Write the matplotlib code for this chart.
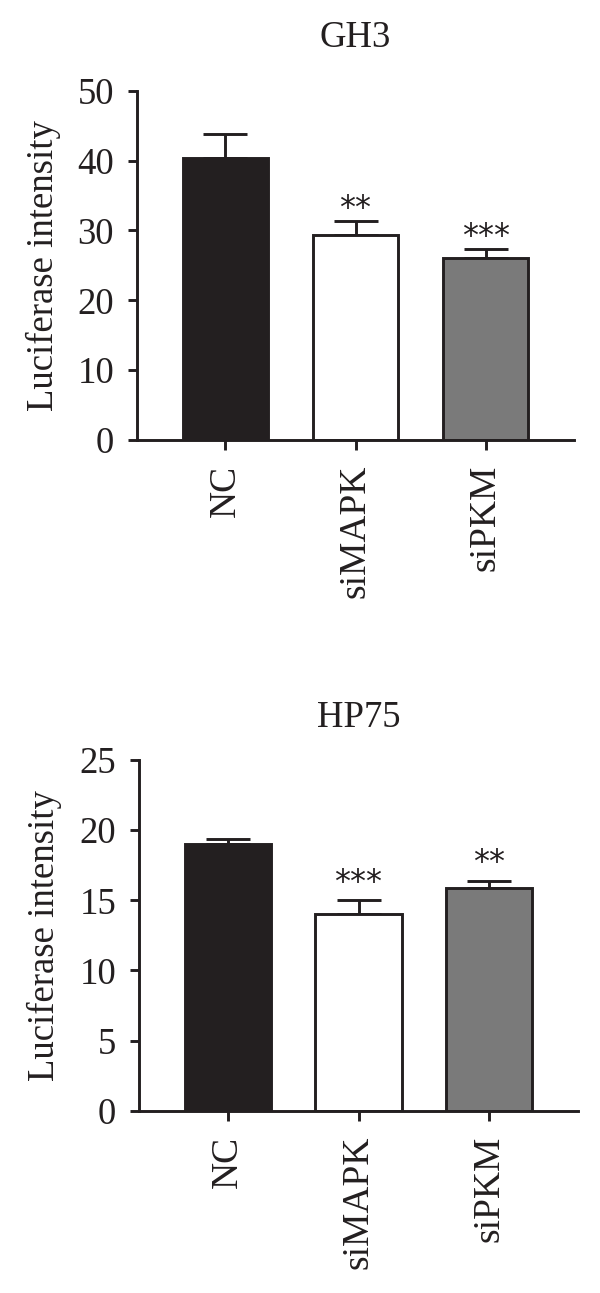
import matplotlib
matplotlib.use('Agg')
import matplotlib.pyplot as plt
import numpy as np

plt.rcParams['font.family'] = ['Liberation Serif', 'DejaVu Serif']

# Data
groups = ['NC', 'siMAPK', 'siPKM']
gh3_means = [40.3, 29.3, 26.1]
gh3_errs = [3.5, 2.1, 1.2]
gh3_stars = ['', '**', '***']
hp75_means = [19.0, 14.0, 15.9]
hp75_errs = [0.4, 1.0, 0.5]
hp75_stars = ['', '***', '**']

bar_colors = ['#231f20', '#ffffff', '#7a7a7a']
ink = '#231f20'
lw = 2.1

fig = plt.figure(figsize=(6, 12.93), dpi=100)

# axes rectangles measured in pixels on the 600x1293 canvas
W, H = 600, 1293
def rect(left, right, top, bottom):
    return [left / W, 1 - bottom / H, (right - left) / W, (bottom - top) / H]

panels = [
    dict(title='GH3', means=gh3_means, errs=gh3_errs, stars=gh3_stars,
         ymax=50, step=10, pos=rect(137, 574, 90.7, 440), title_pad=31.5, star_off=9),
    dict(title='HP75', means=hp75_means, errs=hp75_errs, stars=hp75_stars,
         ymax=25, step=5, pos=rect(139, 578, 760, 1110.7), title_pad=23.5, star_off=13),
]

for p in panels:
    ax = fig.add_axes(p['pos'])
    x = np.arange(len(groups))
    ax.bar(x, p['means'], 0.66, color=bar_colors, edgecolor=ink, linewidth=lw, zorder=2)
    ax.errorbar(x, p['means'], yerr=[np.zeros(len(x)), p['errs']], fmt='none',
                ecolor=ink, elinewidth=lw, capsize=15.5, capthick=lw, zorder=1)

    for xi, m, e, s in zip(x, p['means'], p['errs'], p['stars']):
        if s:
            ax.annotate(s, (xi, m + e), xytext=(0, p['star_off']), textcoords='offset points',
                        ha='center', va='center', fontsize=23, color=ink,
                        family=['DejaVu Sans'])

    ax.set_xlim(-0.68, 2.68)
    ax.set_ylim(0, p['ymax'])
    ax.set_yticks(np.arange(0, p['ymax'] + 1, p['step']))
    ax.set_xticks(x)
    ax.set_xticklabels(groups, rotation=90, fontsize=27, color=ink)
    ax.tick_params(axis='y', labelsize=26.5, length=6.5, width=lw, pad=10, colors=ink)
    ax.tick_params(axis='x', length=7, width=lw, pad=11, colors=ink)

    for side in ['top', 'right']:
        ax.spines[side].set_visible(False)
    for side in ['left', 'bottom']:
        ax.spines[side].set_linewidth(lw)
        ax.spines[side].set_color(ink)

    ax.set_ylabel('Luciferase intensity', fontsize=26.5, color=ink)
    ax.yaxis.set_label_coords(-0.175, 0.5)
    ax.set_title(p['title'], fontsize=26.5, color=ink, pad=p['title_pad'])

fig.savefig('out.png', dpi=100)
